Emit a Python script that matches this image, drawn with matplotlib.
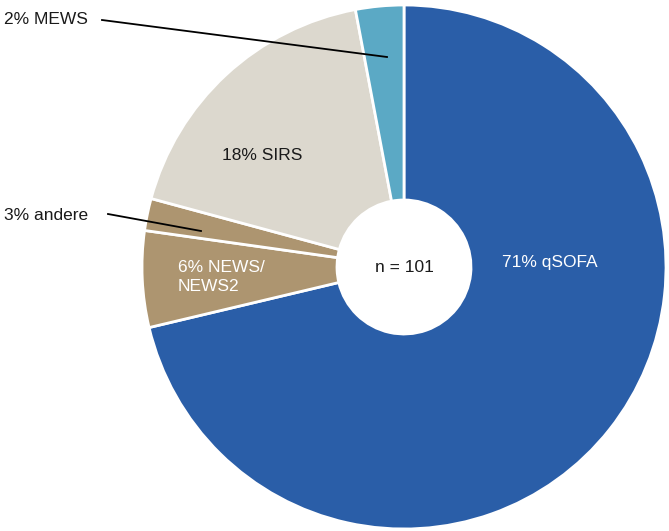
import matplotlib as mpl
mpl.use('Agg')
import matplotlib.pyplot as plt

plt.rcParams['font.family'] = ['Liberation Sans', 'DejaVu Sans']

# counts (n = 101)
labels = ['71% qSOFA', '6% NEWS/\nNEWS2', '3% andere', '18% SIRS', '2% MEWS']
counts = [72, 6, 2, 18, 3]
colors = ['#2a5ea8', '#ad9570', '#ad9570', '#dcd8ce', '#5ba9c5']

W, H = 669, 531
fig = plt.figure(figsize=(W / 100, H / 100), dpi=100)
ax = fig.add_axes([0, 0, 1, 1])

cx, cy, r = 404, 267, 262
wedges, _ = ax.pie(counts, colors=colors, startangle=90, counterclock=False,
                   center=(cx, H - cy), radius=r,
                   wedgeprops=dict(width=r - 67, edgecolor='white', linewidth=2))

def py(y):
    return H - y

fs = 12.5
ax.text(550, py(262), labels[0], color='white', fontsize=fs, ha='center', va='center')
ax.text(178, py(277), labels[1], color='white', fontsize=fs, ha='left', va='center',
        linespacing=1.3)
ax.text(262, py(156), labels[3], color='#1a1a1a', fontsize=fs, ha='center', va='center')
ax.text(4, py(215), labels[2], color='#1a1a1a', fontsize=fs, ha='left', va='center')
ax.text(4, py(20), labels[4], color='#1a1a1a', fontsize=fs, ha='left', va='center')
ax.text(cx, py(268), 'n = 101', color='#1a1a1a', fontsize=fs, ha='center', va='center')

ax.plot([108, 201], [py(214), py(231)], color='black', linewidth=1.3)
ax.plot([102, 387], [py(20), py(57)], color='black', linewidth=1.3)

# pixel-like data coordinates over the whole figure
ax.set_aspect('auto')
ax.set_xlim(0, W)
ax.set_ylim(0, H)
ax.axis('off')

fig.savefig('out.png', dpi=100)
